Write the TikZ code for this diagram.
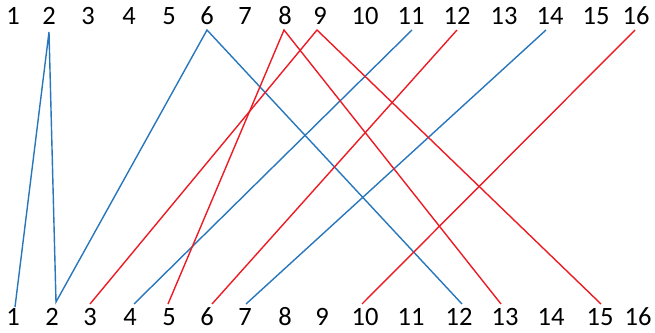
\documentclass[tikz,border=0pt]{standalone}
\usepackage{fontspec}
\setmainfont{Carlito}
\definecolor{lblue}{RGB}{40,118,188}
\definecolor{lred}{RGB}{236,28,36}
\begin{document}
\begin{tikzpicture}[x=1pt,y=1pt,
  lbl/.style={anchor=base,inner sep=0pt,text depth=0pt,font=\fontsize{26.5}{26.5}\selectfont},
  bl/.style={draw=lblue,line width=1.4pt},
  rd/.style={draw=lred,line width=1.4pt}]
\useasboundingbox (0,0) rectangle (655,332);
% top labels
\foreach \n/\x in {1/13,2/49,3/88,4/129,5/169,6/207,7/245,8/285,9/320,10/365,11/411,12/457,13/504,14/550,15/596,16/636}
  \node[lbl] (t\n) at (\x,307) {\n};
% bottom labels
\foreach \n/\x in {1/13,2/52,3/90,4/130,5/169,6/207,7/245,8/285,9/322,10/365,11/411,12/459,13/505,14/551,15/600,16/638}
  \node[lbl] (b\n) at (\x,7) {\n};
% blue connectors
\draw[bl] ([xshift=2pt,yshift=18pt]b1.base) -- ([yshift=-7pt]t2.base) -- ([xshift=4pt,yshift=23pt]b2.base) -- ([yshift=-5pt]t6.base) -- ([xshift=3pt,yshift=21pt]b12.base);
\draw[bl] ([xshift=4pt,yshift=21pt]b4.base) -- ([xshift=1pt,yshift=-5pt]t11.base);
\draw[bl] ([xshift=1pt,yshift=21pt]b7.base) -- ([xshift=-4pt,yshift=-5pt]t14.base);
% red connectors
\draw[rd] ([yshift=21pt]b3.base) -- ([xshift=-3pt,yshift=-5pt]t9.base) -- ([xshift=1pt,yshift=21pt]b15.base);
\draw[rd] ([xshift=-1pt,yshift=21pt]b5.base) -- ([xshift=-1pt,yshift=-5pt]t8.base) -- ([xshift=-4pt,yshift=21pt]b13.base);
\draw[rd] ([xshift=5pt,yshift=21pt]b6.base) -- ([yshift=-5pt]t12.base);
\draw[rd] ([xshift=-3pt,yshift=21pt]b10.base) -- ([xshift=-1pt,yshift=-5pt]t16.base);
\end{tikzpicture}
\end{document}
